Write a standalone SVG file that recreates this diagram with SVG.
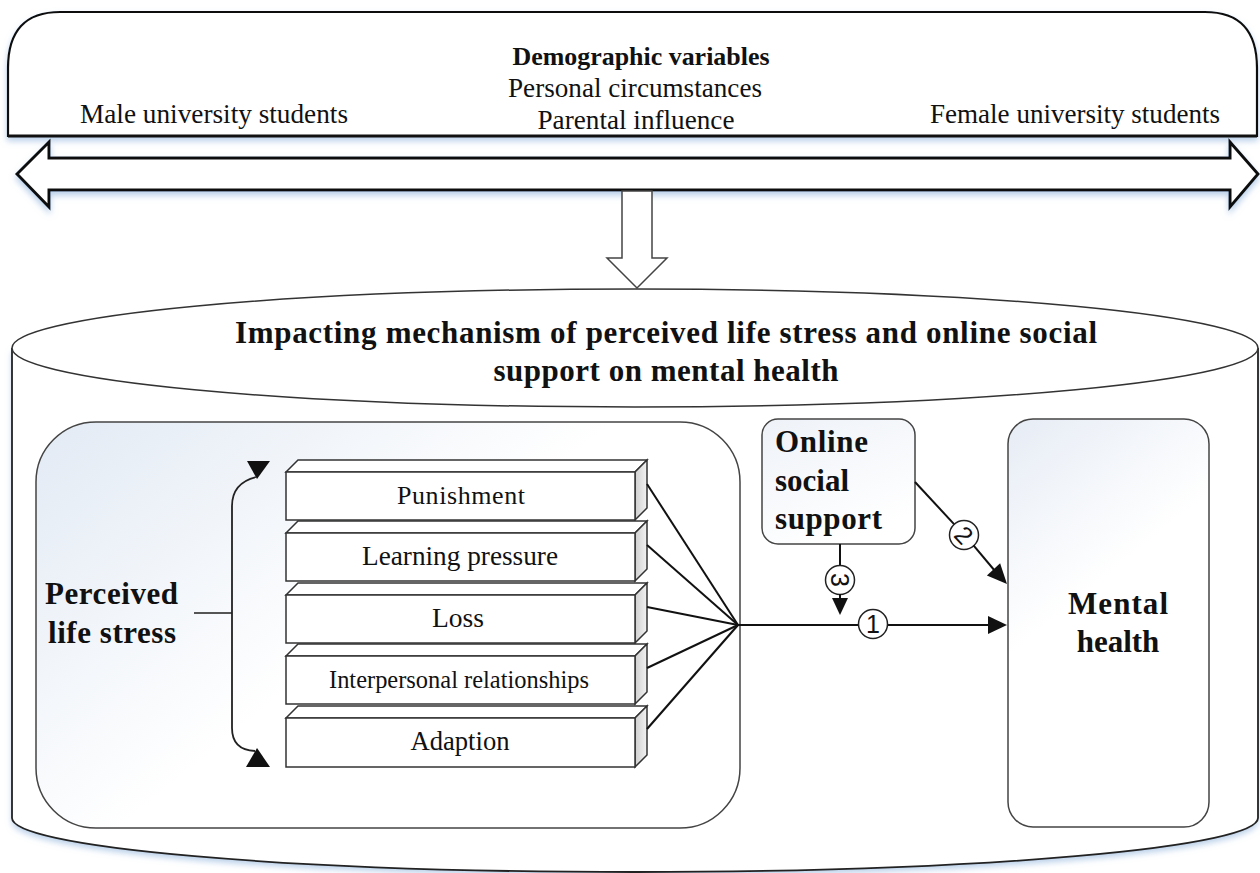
<svg xmlns="http://www.w3.org/2000/svg" width="1260" height="873" viewBox="0 0 1260 873">
<style>
.serif{font-family:"Liberation Serif","Times New Roman",serif;fill:#111}
.b{font-weight:bold}
.num{font-family:"Liberation Sans","DejaVu Sans",sans-serif;font-size:25px;fill:#111}
.conn{fill:none;stroke:#111;stroke-width:2}
.head{fill:#111;stroke:none}
.face{fill:#fff;stroke:#333;stroke-width:1.5}
.side{fill:url(#gSide);stroke:#333;stroke-width:1.5}
</style>
<defs>
<filter id="sh" x="-5%" y="-20%" width="110%" height="150%">
<feDropShadow dx="0" dy="4" stdDeviation="3" flood-color="#7fa8d8" flood-opacity="0.55"/>
</filter>
<linearGradient id="gPanel" x1="0" y1="0" x2="1" y2="0.7">
<stop offset="0" stop-color="#e2eaf4"/>
<stop offset="0.55" stop-color="#ffffff"/>
</linearGradient>
<linearGradient id="gMH" x1="0" y1="0" x2="0.4" y2="1">
<stop offset="0" stop-color="#e6ecf5"/>
<stop offset="0.5" stop-color="#ffffff"/>
</linearGradient>
<linearGradient id="gOSS" x1="0" y1="0" x2="0.5" y2="1">
<stop offset="0" stop-color="#eef2f8"/>
<stop offset="1" stop-color="#ffffff"/>
</linearGradient>
<linearGradient id="gSide" x1="0" y1="0" x2="1" y2="0">
<stop offset="0" stop-color="#cfcfcf"/>
<stop offset="1" stop-color="#f2f2f2"/>
</linearGradient>
</defs>
<rect width="1260" height="873" fill="#fff"/>

<g id="demographics">
<path d="M8,136 L8,68 Q8,12 60,12 L1205,12 Q1257,12 1257,68 L1257,136 Z" fill="#fff" stroke="#111" stroke-width="2.2" filter="url(#sh)"/>
<line x1="8" y1="136" x2="1257" y2="136" stroke="#111" stroke-width="3"/>
<text class="serif b" x="641" y="65" font-size="26" text-anchor="middle" textLength="257" lengthAdjust="spacingAndGlyphs">Demographic variables</text>
<text class="serif" x="635" y="97" font-size="27" text-anchor="middle" textLength="254" lengthAdjust="spacingAndGlyphs">Personal circumstances</text>
<text class="serif" x="636" y="129" font-size="27" text-anchor="middle" textLength="197" lengthAdjust="spacingAndGlyphs">Parental influence</text>
<text class="serif" x="80" y="123" font-size="27" textLength="268" lengthAdjust="spacingAndGlyphs">Male university students</text>
<text class="serif" x="930" y="123" font-size="27" textLength="290" lengthAdjust="spacingAndGlyphs">Female university students</text>
</g>

<g id="double-arrow">
<polygon points="17,174 49,142 49,158 1230,158 1230,142 1258,174 1230,207 1230,190 49,190 49,207" fill="#fff" stroke="#111" stroke-width="3" stroke-linejoin="miter" filter="url(#sh)"/>
</g>

<g id="down-arrow">
<polygon points="622,191 652,191 652,258 667,258 637,288 607,258 622,258" fill="#fff" stroke="#444" stroke-width="1.5"/>
</g>

<g id="mechanism">
<path d="M12,348 L12,818 A623,54 0 0 0 1258,818 L1258,348 Z" fill="#fff" stroke="none" filter="url(#sh)"/>
<path d="M12,348 L12,818 A623,54 0 0 0 1258,818 L1258,348" fill="none" stroke="#222" stroke-width="1.8"/>
<ellipse cx="635" cy="348" rx="623" ry="59" fill="#fff" stroke="#333" stroke-width="1.5"/>
<text class="serif b" x="666" y="343" font-size="31" text-anchor="middle" textLength="862" lengthAdjust="spacing">Impacting mechanism of perceived life stress and online social</text>
<text class="serif b" x="666" y="381" font-size="31" text-anchor="middle" textLength="345" lengthAdjust="spacing">support on mental health</text>
</g>

<g id="perceived-life-stress">
<rect x="36" y="422" width="704" height="406" rx="60" ry="60" fill="url(#gPanel)" stroke="#444" stroke-width="1.5"/>
<text class="serif b" x="45" y="604" font-size="31" textLength="133" lengthAdjust="spacing">Perceived</text>
<text class="serif b" x="48" y="643" font-size="31" textLength="128" lengthAdjust="spacing">life stress</text>
<line x1="194" y1="613" x2="232" y2="613" stroke="#555" stroke-width="2"/>
<path d="M256,477 Q232,483 232,506 L232,728 Q232,750 255,751" fill="none" stroke="#222" stroke-width="1.8"/>
<polygon class="head" points="247,461 270,461 257,479"/>
<polygon class="head" points="246,767 270,767 257,748"/>
</g>

<g id="box-punishment">
<polygon class="face" points="286,472 298,460 647,460 635,472"/>
<polygon class="side" points="635,472 647,460 647,508 635,520"/>
<rect class="face" x="286" y="472" width="349" height="48"/>
<text class="serif" x="461" y="504" font-size="26" text-anchor="middle" textLength="128" lengthAdjust="spacing">Punishment</text>
</g>
<g id="box-learning">
<polygon class="face" points="286,533 298,521 647,521 635,533"/>
<polygon class="side" points="635,533 647,521 647,569 635,581"/>
<rect class="face" x="286" y="533" width="349" height="48"/>
<text class="serif" x="460" y="565" font-size="27" text-anchor="middle" textLength="196" lengthAdjust="spacingAndGlyphs">Learning pressure</text>
</g>
<g id="box-loss">
<polygon class="face" points="286,595 298,583 647,583 635,595"/>
<polygon class="side" points="635,595 647,583 647,631 635,643"/>
<rect class="face" x="286" y="595" width="349" height="48"/>
<text class="serif" x="458" y="627" font-size="27" text-anchor="middle" textLength="52" lengthAdjust="spacingAndGlyphs">Loss</text>
</g>
<g id="box-interpersonal">
<polygon class="face" points="286,656 298,644 647,644 635,656"/>
<polygon class="side" points="635,656 647,644 647,692 635,704"/>
<rect class="face" x="286" y="656" width="349" height="48"/>
<text class="serif" x="459" y="688" font-size="25" text-anchor="middle" textLength="260" lengthAdjust="spacingAndGlyphs">Interpersonal relationships</text>
</g>
<g id="box-adaption">
<polygon class="face" points="286,718 298,706 647,706 635,718"/>
<polygon class="side" points="635,718 647,706 647,755 635,767"/>
<rect class="face" x="286" y="718" width="349" height="49"/>
<text class="serif" x="460" y="750" font-size="27" text-anchor="middle" textLength="99" lengthAdjust="spacingAndGlyphs">Adaption</text>
</g>

<g id="online-social-support">
<rect x="762" y="419" width="153" height="125" rx="16" ry="16" fill="url(#gOSS)" stroke="#444" stroke-width="1.5"/>
<text class="serif b" x="775" y="452" font-size="31" textLength="93" lengthAdjust="spacing">Online</text>
<text class="serif b" x="775" y="491" font-size="31">social</text>
<text class="serif b" x="775" y="529" font-size="31" textLength="107" lengthAdjust="spacing">support</text>
</g>

<g id="mental-health">
<rect x="1008" y="419" width="201" height="408" rx="25" ry="25" fill="url(#gMH)" stroke="#444" stroke-width="1.5"/>
<text class="serif b" x="1118" y="614" font-size="31" text-anchor="middle" textLength="100" lengthAdjust="spacing">Mental</text>
<text class="serif b" x="1118" y="652" font-size="31" text-anchor="middle">health</text>
</g>

<g id="connectors">
<line class="conn" x1="647" y1="484" x2="738" y2="625"/>
<line class="conn" x1="647" y1="545" x2="738" y2="625"/>
<line class="conn" x1="647" y1="607" x2="738" y2="625"/>
<line class="conn" x1="647" y1="668" x2="738" y2="625"/>
<line class="conn" x1="647" y1="729" x2="738" y2="625"/>
<line class="conn" x1="738" y1="625" x2="859" y2="625"/>
<line class="conn" x1="887" y1="625" x2="992" y2="625"/>
<polygon class="head" points="1007,625 988,616 988,634"/>
<circle cx="873" cy="624" r="14.5" fill="#fff" stroke="#222" stroke-width="1.5"/>
<text class="num" x="873" y="633" text-anchor="middle">1</text>

<line class="conn" x1="840" y1="544" x2="840" y2="566"/>
<circle cx="840" cy="580" r="14.5" fill="#fff" stroke="#222" stroke-width="1.5"/>
<text class="num" x="840" y="589" text-anchor="middle" transform="rotate(90 840 580)">3</text>
<line class="conn" x1="840" y1="594" x2="840" y2="600"/>
<polygon class="head" points="832,598 848,598 840,615"/>

<line class="conn" x1="915" y1="482" x2="954.5" y2="524.6"/>
<circle cx="964" cy="535" r="14.5" fill="#fff" stroke="#222" stroke-width="1.5"/>
<text class="num" x="964" y="544" text-anchor="middle" transform="rotate(47 964 535)">2</text>
<line class="conn" x1="973.5" y1="545.4" x2="995" y2="571"/>
<polygon class="head" points="1007,584 1000.1,563.2 986.9,575.4"/>
</g>
</svg>
